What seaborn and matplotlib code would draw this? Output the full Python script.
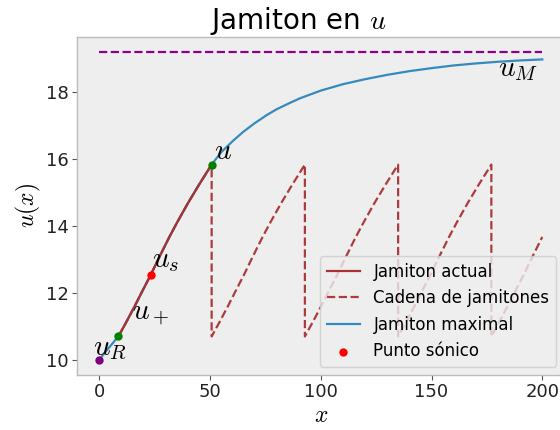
import matplotlib
matplotlib.use("Agg")
import matplotlib.pyplot as plt
import seaborn as sns
import numpy as np

# ---- data ----
# maximal jamiton curve
max_x = [0, 4, 8.6, 12, 16, 20, 23.2, 27, 31, 35, 40, 45, 50.7, 55, 60.5, 65, 70, 75.6,
         80, 85, 90.6, 100, 110, 120, 130, 140, 150, 160, 170, 180, 190, 200]
max_u = [10.00, 10.33, 10.69, 11.10, 11.60, 12.12, 12.53, 13.05, 13.58, 14.08, 14.67, 15.22,
         15.82, 16.19, 16.54, 16.80, 17.05, 17.30, 17.47, 17.63, 17.80, 18.03, 18.22, 18.37,
         18.50, 18.61, 18.70, 18.78, 18.84, 18.89, 18.93, 18.96]
# current jamiton (portion between u+ and u-)
jam_x = [8.6, 12, 16, 20, 23.2, 27, 31.6, 35, 40, 45, 50.7]
jam_u = [10.69, 11.10, 11.60, 12.12, 12.53, 13.05, 13.66, 14.08, 14.67, 15.22, 15.82]
chain_shifts = [0, 42.1, 84.2, 126.3, 168.4]
chain_end = 200
# characteristic points
u_M = 19.17
uM_x = [0, 200]
pt_R = (0, 10.0)
pt_plus = (8.6, 10.69)
pt_minus = (50.7, 15.82)
pt_sonic = (23.2, 12.53)

# ---- style ----
plt.rcParams.update({
    "font.family": ["DejaVu Sans"],
    "mathtext.fontset": "cm",
    "axes.facecolor": "#eeeeee",
    "axes.edgecolor": "#bcbcbc",
    "axes.linewidth": 1.0,
    "axes.grid": False,
    "xtick.direction": "out",
    "ytick.direction": "out",
    "xtick.color": "#555555",
    "ytick.color": "#555555",
    "xtick.labelcolor": "#222222",
    "ytick.labelcolor": "#222222",
    "xtick.labelsize": 13,
    "ytick.labelsize": 13,
    "xtick.major.pad": 2.5,
    "ytick.major.pad": 2.5,
})

fig = plt.figure(figsize=(5.6, 4.3), dpi=100)
ax = fig.add_axes([0.1379, 0.128, 0.870, 0.786])

brown = "#a83232"
blue = "#348ABD"

# chain of jamitons (built from the jamiton segment repeated)
cx, cu = [], []
for k, s in enumerate(chain_shifts):
    for xv, uv in zip(jam_x, jam_u):
        if xv + s <= chain_end + 1e-6:
            cx.append(xv + s)
            cu.append(uv)

sns.lineplot(x=jam_x, y=jam_u, ax=ax, color=brown, lw=1.6, label="Jamiton actual",
             sort=False, estimator=None, zorder=4)
sns.lineplot(x=cx, y=cu, ax=ax, color=brown, lw=1.6, linestyle="--",
             label="Cadena de jamitones", sort=False, estimator=None, zorder=2, alpha=0.95)
sns.lineplot(x=max_x, y=max_u, ax=ax, color=blue, lw=1.6, label="Jamiton maximal",
             sort=False, estimator=None, zorder=3)
sns.lineplot(x=uM_x, y=[u_M, u_M], ax=ax, color="#8b008b", lw=1.6, linestyle="--",
             sort=False, estimator=None, zorder=2)

sns.scatterplot(x=[pt_sonic[0]], y=[pt_sonic[1]], ax=ax, color="red", s=36,
                linewidth=0, label="Punto sónico", zorder=5)
sns.scatterplot(x=[pt_plus[0], pt_minus[0]], y=[pt_plus[1], pt_minus[1]], ax=ax,
                color="green", s=36, linewidth=0, zorder=5)
sns.scatterplot(x=[pt_R[0]], y=[pt_R[1]], ax=ax, color="purple", s=36, linewidth=0, zorder=5)

fs = 21
ax.text(-2.7, 10.12, r"$u_R$", fontsize=fs, zorder=6)
ax.text(14.6, 11.2, r"$u_+$", fontsize=fs, zorder=6)
ax.text(23.6, 12.75, r"$u_s$", fontsize=fs, zorder=6)
ax.text(51.8, 15.98, r"$u$", fontsize=fs, zorder=6)
ax.text(180, 18.45, r"$u_M$", fontsize=fs, zorder=6)

ax.set_xlim(-10, 210)
ax.set_ylim(9.54, 19.63)
ax.set_xticks([0, 50, 100, 150, 200])
ax.set_yticks([10, 12, 14, 16, 18])
ax.spines["right"].set_visible(False)
ax.set_xlabel(r"$x$", fontsize=17, labelpad=1)
ax.set_ylabel(r"$u(x)$", fontsize=17, labelpad=2)
ax.set_title(r"Jamiton en $u$", fontsize=20, x=0.453)
ax.legend(loc="lower right", fontsize=12, framealpha=0.8, facecolor="#eeeeee",
          edgecolor="#cccccc")

fig.savefig("out.png", dpi=100)
